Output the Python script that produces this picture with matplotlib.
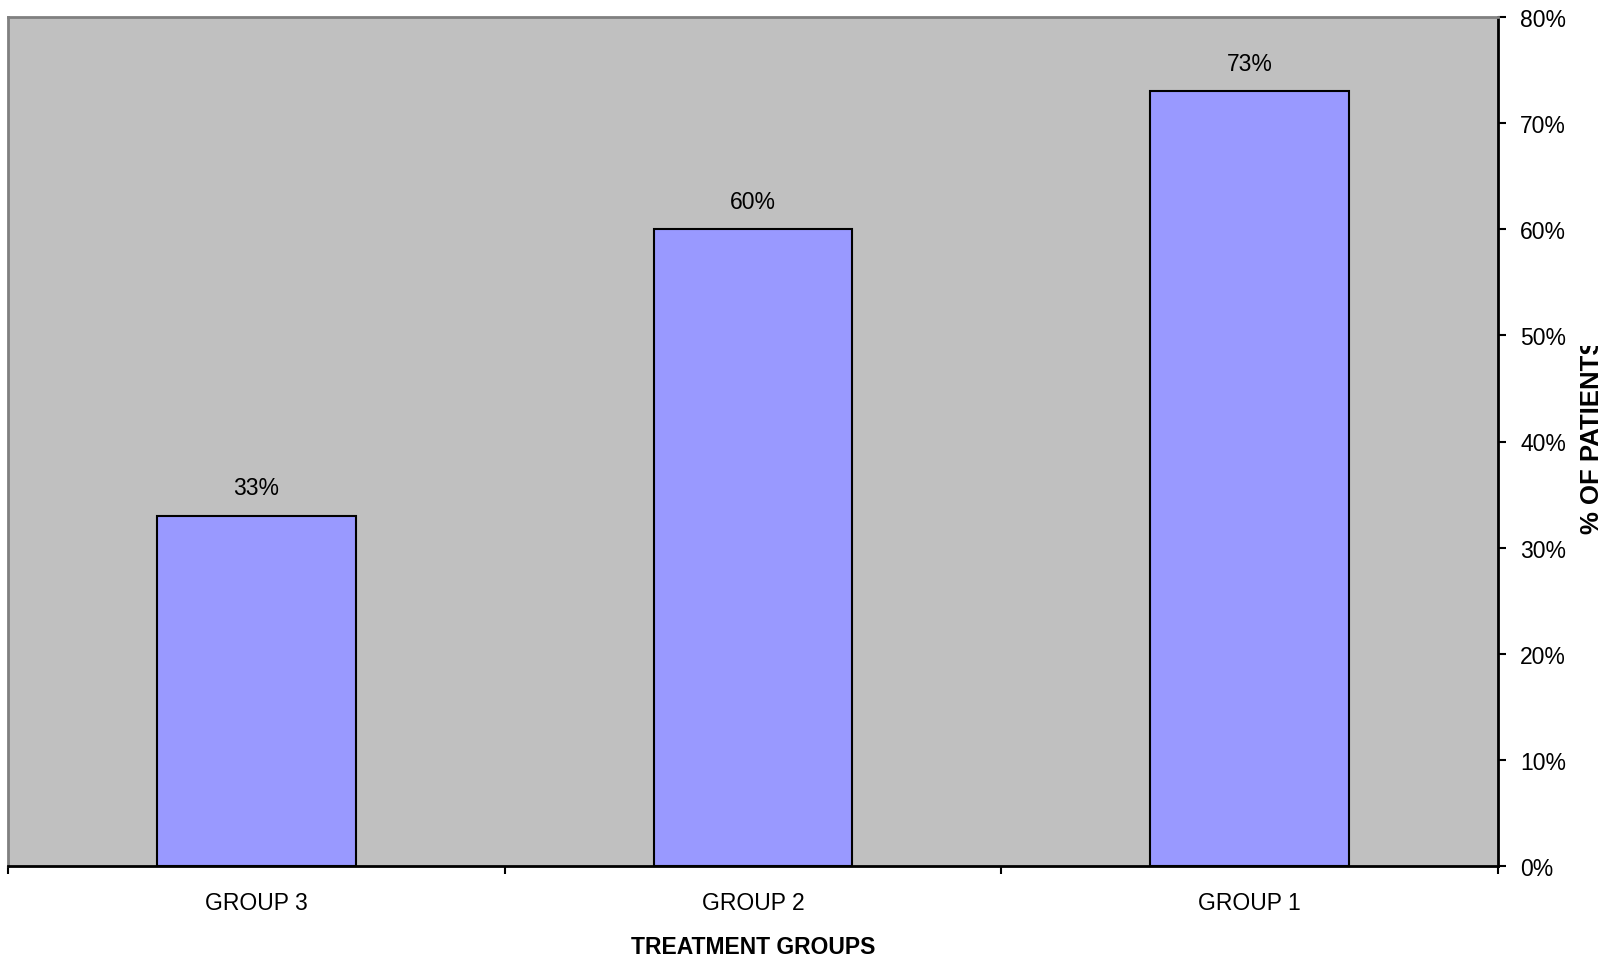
import matplotlib
matplotlib.use("Agg")
import matplotlib.pyplot as plt
from matplotlib.ticker import FuncFormatter, FixedLocator, NullFormatter
from matplotlib.transforms import Bbox

plt.rcParams['font.family'] = ['Liberation Sans', 'DejaVu Sans']

groups = ["GROUP 3", "GROUP 2", "GROUP 1"]
percent = [33, 60, 73]
y_ticks = [0, 10, 20, 30, 40, 50, 60, 70, 80]

W, H = 1621, 962
fig = plt.figure(figsize=(W / 100, H / 100), dpi=100)
ax = fig.add_axes([8 / W, 1 - 867 / H, (1498 - 8) / W, (867 - 18) / H])
ax.set_facecolor('#C0C0C0')

x = list(range(len(groups)))
bars = ax.bar(x, percent, width=0.4, color='#9999FF', edgecolor='black', linewidth=1.5, zorder=3)
for xi, v in zip(x, percent):
    ax.annotate(f"{v}%", (xi, v), xytext=(0, 12), textcoords='offset points',
                ha='center', va='bottom', fontsize=16.5, color='black')

ax.set_xlim(-0.5, len(groups) - 0.5)
ax.set_ylim(0, 80)

# Y axis on the right
ax.yaxis.tick_right()
ax.set_yticks(y_ticks)
ax.yaxis.set_major_formatter(FuncFormatter(lambda v, p: f"{int(v)}%"))
ax.tick_params(axis='y', direction='out', length=6, width=1.5, pad=10, labelsize=16.5, colors='black')

# X ticks at category boundaries, labels centred under bars
ax.xaxis.set_major_locator(FixedLocator([i - 0.5 for i in range(len(groups) + 1)]))
ax.xaxis.set_major_formatter(NullFormatter())
ax.xaxis.set_minor_locator(FixedLocator(x))
ax.set_xticklabels(groups, minor=True)
ax.tick_params(axis='x', which='major', direction='out', length=6, width=1.5)
ax.tick_params(axis='x', which='minor', length=0, pad=18, labelsize=16.5)

for s in ['left', 'top']:
    ax.spines[s].set_color('#808080')
    ax.spines[s].set_linewidth(2)
for s in ['bottom', 'right']:
    ax.spines[s].set_color('black')
    ax.spines[s].set_linewidth(2)

fig.text(753 / W, 1 - 948 / H, "TREATMENT GROUPS", ha='center', va='center',
         fontsize=16.5, fontweight='bold')

# Axis title box is narrower than the text, so its top end is cut off
ylab = fig.text(1592 / W, 1 - 435.5 / H, "% OF PATIENTS", ha='center', va='center',
                rotation=90, fontsize=18.5, fontweight='bold')
ylab.set_clip_box(Bbox([[0, 0], [W, H - 347]]))
ylab.set_clip_on(True)

fig.savefig("out.png", dpi=100)
